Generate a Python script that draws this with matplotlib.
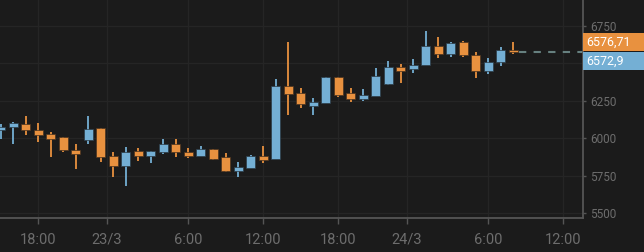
import matplotlib
matplotlib.use('Agg')
import matplotlib.pyplot as plt
from matplotlib.patches import Rectangle
from matplotlib.transforms import blended_transform_factory, ScaledTranslation

# hourly candles, index 0 = first candle on screen
opens  = [6055, 6073, 6097, 6055, 6031, 6007, 5922, 5989, 6071, 5880,
          5815, 5915, 5884, 5909, 5964, 5907, 5882, 5929, 5873, 5780,
          5804, 5882, 5864, 6348, 6300, 6215, 6237, 6406, 6300, 6262,
          6280, 6364, 6473, 6464, 6491, 6615, 6564, 6640, 6557, 6449,
          6506, 6589]
closes = [6077, 6100, 6057, 6024, 5997, 5922, 5897, 6060, 5873, 5817,
          5907, 5884, 5915, 5964, 5909, 5884, 5929, 5864, 5780, 5809,
          5882, 5855, 6348, 6297, 6231, 6240, 6406, 6289, 6264, 6289,
          6415, 6473, 6449, 6489, 6615, 6564, 6637, 6557, 6449, 6506,
          6589, 6572.9]
highs  = [6093, 6109, 6151, 6100, 6042, 6007, 5962, 6151, 6071, 5907,
          5942, 5937, 5915, 5993, 5993, 5935, 5951, 5929, 5902, 5842,
          5889, 5951, 6393, 6642, 6335, 6269, 6406, 6406, 6335, 6326,
          6468, 6517, 6495, 6527, 6717, 6675, 6642, 6650, 6575, 6533,
          6609, 6642]
lows   = [5993, 5960, 6024, 5975, 5877, 5911, 5793, 5960, 5844, 5744,
          5684, 5851, 5833, 5893, 5877, 5869, 5882, 5857, 5775, 5744,
          5800, 5833, 5864, 6157, 6200, 6157, 6237, 6275, 6242, 6249,
          6280, 6357, 6369, 6438, 6491, 6535, 6544, 6544, 6404, 6429,
          6484, 6564]

x_tick_pos    = [3, 8.5, 15, 21, 27, 32.5, 39, 45]
x_tick_labels = ['18:00', '23/3', '6:00', '12:00', '18:00', '24/3', '6:00', '12:00']
y_ticks       = [5500, 5750, 6000, 6250, 6500, 6750]
y_tick_labels = ['5500', '5750', '6000', '6250', '', '6750']  # 6500 sits under the price boxes

price_hi = 6576.71
price_last = 6572.9

BG = '#1b1b1b'
UP = '#74afd4'
DOWN = '#e8913f'
GRID = '#252525'
AXIS = '#555555'
TXT = '#6d6d6d'

plt.rcParams['font.family'] = ['Roboto', 'DejaVu Sans']

fig = plt.figure(figsize=(6.44, 2.52), dpi=100, facecolor=BG)
ax = fig.add_axes([0, 1 - 218 / 252, 582.5 / 644, 218 / 252])
ax.set_facecolor(BG)

w = 0.72
for i, (o, c, h, l) in enumerate(zip(opens, closes, highs, lows)):
    col = UP if c >= o else DOWN
    ax.vlines(i, l, h, color=col, linewidth=1.3, zorder=3)
    lo, hi = min(o, c), max(o, c)
    ax.add_patch(Rectangle((i - w / 2, lo), w, max(hi - lo, 4), facecolor=col,
                           edgecolor='#2b3b46' if col == UP else '#4a3320',
                           linewidth=0.5, zorder=4))

# last price dashed line
n = len(closes)
ax.plot([n - 0.5, 46.6], [price_last, price_last], color='#66807f',
        linewidth=1.5, linestyle=(0, (3.5, 3.5)), zorder=2)

ax.set_xlim(-0.04, 46.55)
ax.set_ylim(5469, 6922)

ax.set_xticks(x_tick_pos)
ax.set_xticklabels(x_tick_labels)
ax.set_yticks(y_ticks)
ax.set_yticklabels(y_tick_labels)
ax.yaxis.tick_right()
ax.grid(True, color=GRID, linewidth=1)
ax.set_axisbelow(True)

for s in ['left', 'top']:
    ax.spines[s].set_visible(False)
for s in ['right', 'bottom']:
    ax.spines[s].set_color(AXIS)
    ax.spines[s].set_linewidth(1.3)

ax.tick_params(axis='x', colors=AXIS, length=4.5, width=1, pad=6,
               labelcolor=TXT, labelsize=10.5)
ax.tick_params(axis='y', colors=AXIS, length=2.5, width=1, pad=3,
               labelcolor=TXT, labelsize=8.5)

# price boxes on the right axis
tr = blended_transform_factory(ax.transAxes, ax.transData)
box_w = 644 / 582.5 - 1
px_per_unit = ax.transData.transform((0, 1))[1] - ax.transData.transform((0, 0))[1]
for price, col, dy in [(price_hi, DOWN, 10), (price_last, UP, -8.5)]:
    t = tr + ScaledTranslation(0, dy / 100, fig.dpi_scale_trans)
    box_t = tr + ScaledTranslation(0, (dy - 9.3) / 100, fig.dpi_scale_trans)
    ax.add_patch(Rectangle((1.0, price), box_w, 18.6 / px_per_unit, transform=box_t,
                           clip_on=False, facecolor=col, linewidth=0, zorder=10))
    ax.text(1.0 + 4 / 582.5, price, f'{price:g}'.replace('.', ','), transform=t,
            color='white', fontsize=9, va='center', ha='left', clip_on=False, zorder=11)

fig.savefig('out.png', dpi=100, facecolor=BG)
